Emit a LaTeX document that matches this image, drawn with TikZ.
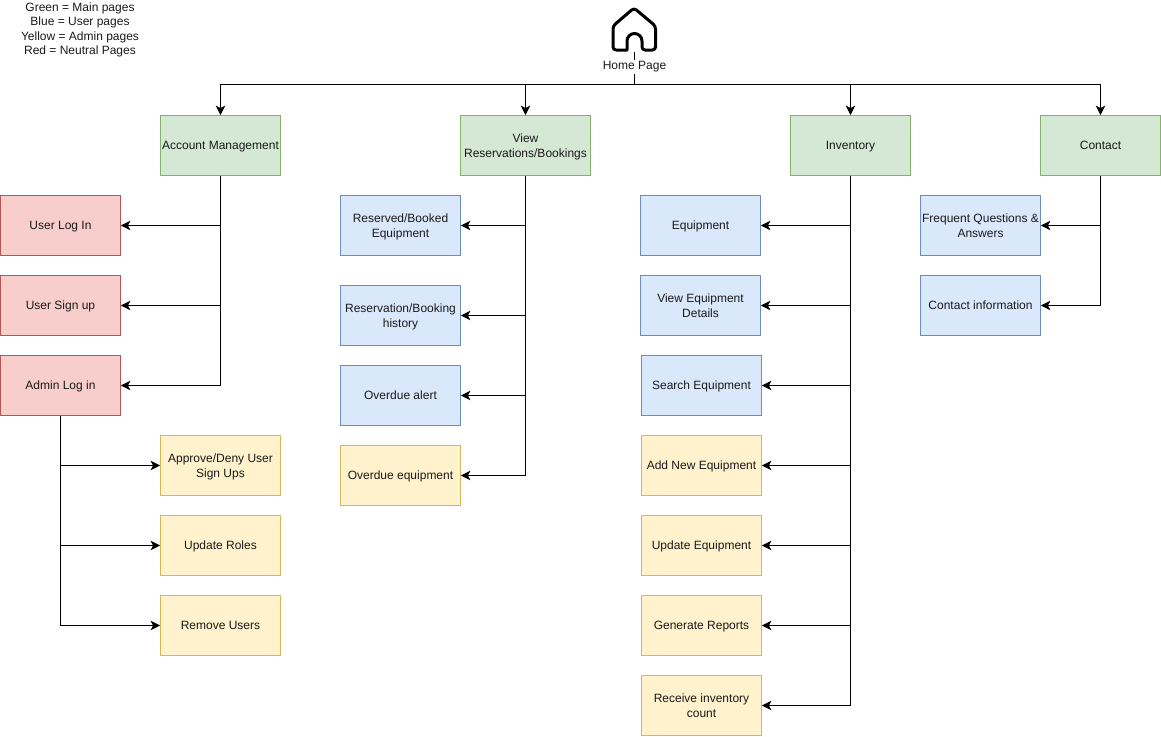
\documentclass[tikz,border=0pt]{standalone}
\usepackage{fontspec}
\setmainfont{Liberation Sans}
\usetikzlibrary{arrows.meta}
\definecolor{gf}{HTML}{D5E8D4}\definecolor{gd}{HTML}{82B366}
\definecolor{bf}{HTML}{DAE8FC}\definecolor{bd}{HTML}{6C8EBF}
\definecolor{yf}{HTML}{FFF2CC}\definecolor{yd}{HTML}{D6B656}
\definecolor{rf}{HTML}{F8CECC}\definecolor{rd}{HTML}{B85450}
\definecolor{txt}{HTML}{1A1A1A}
\tikzset{
  x=1pt,y=-1pt,
  pagebox/.style={draw,line width=0.8pt,minimum width=120pt,minimum height=60pt,inner sep=0pt,align=center,font=\fontsize{12}{15}\selectfont,text=txt},
  mainbox/.style={pagebox,fill=gf,draw=gd},
  userbox/.style={pagebox,fill=bf,draw=bd},
  adminbox/.style={pagebox,fill=yf,draw=yd},
  neutralbox/.style={pagebox,fill=rf,draw=rd},
  link/.style={draw=black,line width=0.9pt,-{Stealth[length=9.5pt,width=9.5pt,inset=2.5pt]}},
  plainlink/.style={draw=black,line width=0.9pt},
  plaintext/.style={font=\fontsize{12}{14.4}\selectfont,text=txt,inner sep=1pt,align=center}
}
\newcommand{\lab}[1]{\rule[-3.3pt]{0pt}{15pt}#1}
\begin{document}
\begin{tikzpicture}
\useasboundingbox (0,0) rectangle (1161,736);
\fill[white] (0,0) rectangle (1161,736);
% legend
\node[plaintext] (legend) at (80,30) {Green = Main pages\\Blue = User pages\\Yellow = Admin pages\\Red = Neutral Pages};
% home icon
\draw[black,line width=3pt,line join=round,rounded corners=3pt]
  (627,50) -- (613,50) -- (613,26) -- (634,8) -- (655.5,26) -- (655.5,50) -- (642,50) -- (642,41);
\draw[black,line width=3pt,line cap=round] (642,41) arc[start angle=0,end angle=-180,radius=7.5] -- (627,50);
\coordinate (homeb) at (634,52);
\coordinate (junction) at (634,84.5);
\node[plaintext,fill=white,inner sep=1.5pt] (home) at (634.5,67) {Home Page};
% main
\node[mainbox] (acc) at (220.5,145.5) {\lab{Account Management}};
\node[mainbox,minimum width=130pt] (view) at (525.5,145.5) {\lab{View}\\\lab{Reservations/Bookings}};
\node[mainbox] (inv) at (850.5,145.5) {\lab{Inventory}};
\node[mainbox] (con) at (1100.5,145.5) {\lab{Contact}};
% account
\node[neutralbox] (login) at (60.5,225.5) {\lab{User Log In}};
\node[neutralbox] (signup) at (60.5,305.5) {\lab{User Sign up}};
\node[neutralbox] (admin) at (60.5,385.5) {\lab{Admin Log in}};
\node[adminbox] (approve) at (220.5,465.5) {\lab{Approve/Deny User}\\\lab{Sign Ups}};
\node[adminbox] (roles) at (220.5,545.5) {\lab{Update Roles}};
\node[adminbox] (remove) at (220.5,625.5) {\lab{Remove Users}};
% view
\node[userbox] (reserved) at (400.5,225.5) {\lab{Reserved/Booked}\\\lab{Equipment}};
\node[userbox] (history) at (400.5,315.5) {\lab{Reservation/Booking}\\\lab{history}};
\node[userbox] (alert) at (400.5,395.5) {\lab{Overdue alert}};
\node[adminbox] (overdue) at (400.5,475.5) {\lab{Overdue equipment}};
% inventory
\node[userbox] (equip) at (700.5,225.5) {\lab{Equipment}};
\node[userbox] (details) at (700.5,305.5) {\lab{View Equipment}\\\lab{Details}};
\node[userbox] (search) at (701.5,385.5) {\lab{Search Equipment}};
\node[adminbox] (addnew) at (701.5,465.5) {\lab{Add New Equipment}};
\node[adminbox] (update) at (701.5,545.5) {\lab{Update Equipment}};
\node[adminbox] (reports) at (701.5,625.5) {\lab{Generate Reports}};
\node[adminbox] (count) at (701.5,705.5) {\lab{Receive inventory}\\\lab{count}};
% contact
\node[userbox] (faq) at (980.5,225.5) {\lab{Frequent Questions \&}\\\lab{Answers}};
\node[userbox] (info) at (980.5,305.5) {\lab{Contact information}};
% home connectors
\draw[plainlink] (homeb) -- (home.north -| homeb);
\draw[plainlink] (home.south -| junction) -- (junction);
\draw[link] (junction) -| (acc.north);
\draw[link] (junction) -| (view.north);
\draw[link] (junction) -| (inv.north);
\draw[link] (junction) -| (con.north);
% tree connectors
\foreach \a/\b in {acc/login,acc/signup,acc/admin,
  view/reserved,view/history,view/alert,view/overdue,
  inv/equip,inv/details,inv/search,inv/addnew,inv/update,inv/reports,inv/count,
  con/faq,con/info}
  {\draw[link] (\a.south) |- (\b.east);}
\foreach \b in {approve,roles,remove}
  {\draw[link] (admin.south) |- (\b.west);}
\end{tikzpicture}
\end{document}
